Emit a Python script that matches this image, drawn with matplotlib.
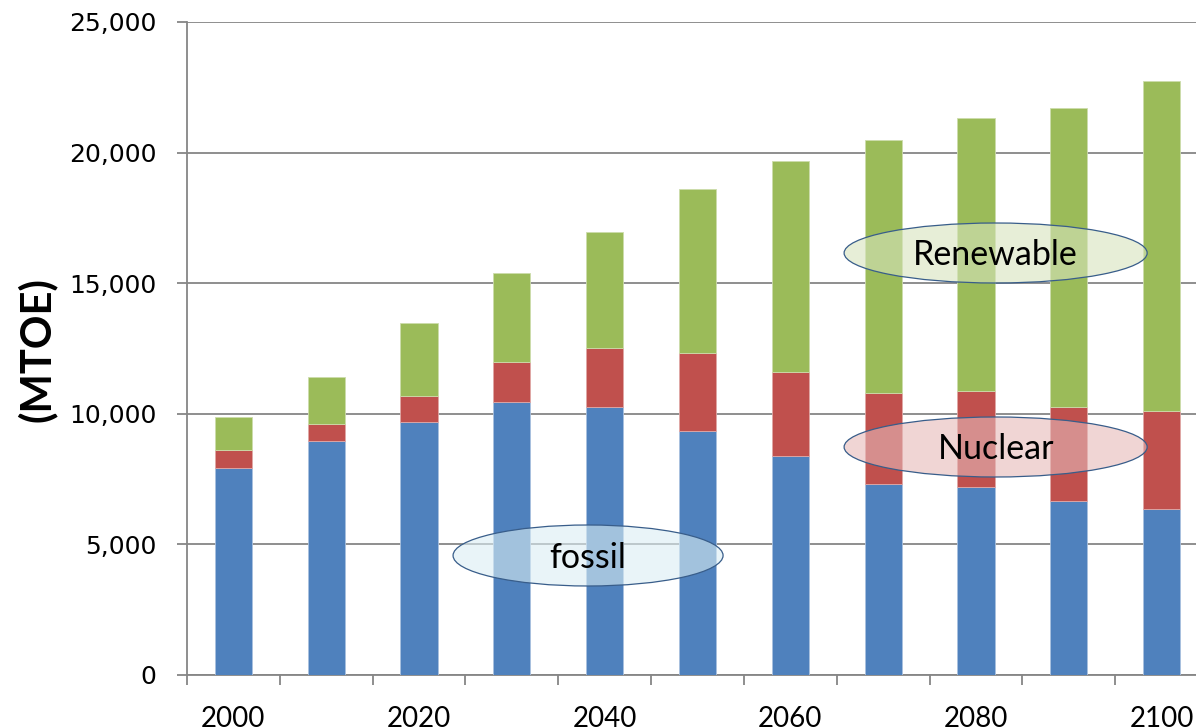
import matplotlib
matplotlib.use("Agg")
import matplotlib.pyplot as plt
from matplotlib.patches import Ellipse
import numpy as np

years = [2000, 2010, 2020, 2030, 2040, 2050, 2060, 2070, 2080, 2090, 2100]
fossil = [7940, 8950, 9700, 10470, 10270, 9350, 8380, 7310, 7190, 6670, 6340]
nuclear = [670, 650, 990, 1500, 2260, 2970, 3210, 3480, 3680, 3600, 3780]
renewable = [1260, 1800, 2780, 3410, 4420, 6280, 8100, 9710, 10470, 11450, 12610]
y_ticks = [0, 5000, 10000, 15000, 20000, 25000]
y_label = "(MTOE)"
labels = ["fossil", "Nuclear", "Renewable"]

C_FOSSIL = "#4f81bd"
C_NUC = "#c0504d"
C_REN = "#9bbb59"
GRID = "#868686"

fig = plt.figure(figsize=(11.96, 7.28), dpi=100)
ax = fig.add_axes([187 / 1196, 53 / 728, 1021 / 1196, 653 / 728])

x = np.arange(len(years))
f = np.array(fossil)
n = np.array(nuclear)
r = np.array(renewable)
w = 0.4
ax.bar(x, f, width=w, color=C_FOSSIL, edgecolor="#a9c1df", linewidth=0.6, zorder=3)
ax.bar(x, n, width=w, bottom=f, color=C_NUC, edgecolor="#e0a8a6", linewidth=0.6, zorder=3)
ax.bar(x, r, width=w, bottom=f + n, color=C_REN, edgecolor="#cddcab", linewidth=0.6, zorder=3)

ax.set_xlim(-0.5, len(years) - 0.5)
ax.set_ylim(0, 25000)
ax.set_yticks(y_ticks)
ax.set_yticklabels([f"{v:,}" for v in y_ticks], fontfamily="DejaVu Sans", fontsize=18)
ax.yaxis.grid(True, color=GRID, linewidth=1.3, zorder=0)
ax.set_axisbelow(True)

# x ticks: boundary ticks (minor), labels every 20 years (major)
ax.set_xticks(x[::2])
ax.set_xticklabels([str(y) for y in years[::2]], fontfamily="Lato", fontsize=20)
ax.set_xticks(np.arange(-0.5, len(years), 1.0), minor=True)
ax.tick_params(axis="x", which="major", length=0, pad=22)
ax.tick_params(axis="x", which="minor", length=7.2, width=1.3, color=GRID, direction="out")
ax.tick_params(axis="y", which="major", length=7.2, width=1.3, color=GRID, direction="out", pad=15)

for s in ["top", "right"]:
    ax.spines[s].set_visible(False)
for s in ["left", "bottom"]:
    ax.spines[s].set_color(GRID)
    ax.spines[s].set_linewidth(1.3)

fig.text(37 / 1196, 1 - 350 / 728, y_label, rotation=90, fontfamily="Lato",
         fontweight="bold", fontsize=30, ha="center", va="center")

# annotation ellipses (data coords)
ell = [
    (labels[0], 3.821, 4575, 2.909, 2335, "#dbeef4"),
    (labels[1], 8.212, 8729, 3.265, 2297, "#e6b9b8"),
    (labels[2], 8.212, 16156, 3.265, 2297, "#d7e4bd"),
]
for txt, cx, cy, ew, eh, fc in ell:
    e = Ellipse((cx, cy), ew, eh, facecolor=fc, alpha=0.6, edgecolor="none", zorder=4)
    ax.add_patch(e)
    e2 = Ellipse((cx, cy), ew, eh, facecolor="none", edgecolor="#385d8a", linewidth=0.9, zorder=5)
    ax.add_patch(e2)
    ax.text(cx, cy - 80, txt, ha="center", va="center", fontfamily="Lato", fontsize=24.5,
            color="black", zorder=6)

fig.savefig("out.png", dpi=100)
